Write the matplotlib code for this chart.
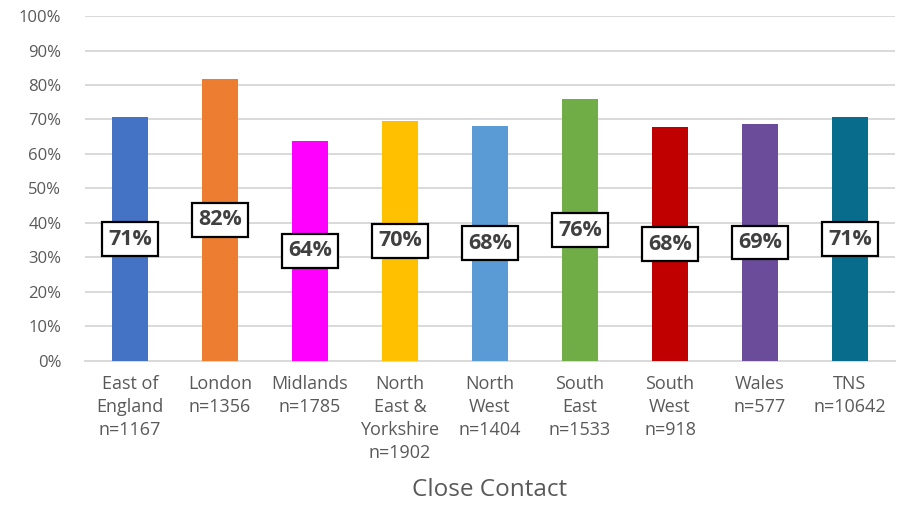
import matplotlib
matplotlib.use("Agg")
import matplotlib.pyplot as plt
import numpy as np

categories = ["East of\nEngland\nn=1167", "London\nn=1356", "Midlands\nn=1785",
              "North\nEast &\nYorkshire\nn=1902", "North\nWest\nn=1404",
              "South\nEast\nn=1533", "South\nWest\nn=918", "Wales\nn=577",
              "TNS\nn=10642"]
values = [70.6, 81.8, 63.8, 69.6, 68.2, 75.8, 67.8, 68.7, 70.7]
labels = ["71%", "82%", "64%", "70%", "68%", "76%", "68%", "69%", "71%"]
colors = ["#4472C4", "#ED7D31", "#FF00FF", "#FFC000", "#5B9BD5",
          "#70AD47", "#C00000", "#6B4C9A", "#086C8C"]
yticks = list(range(0, 101, 10))
title = "Close Contact"

plt.rcParams['font.family'] = ['Open Sans', 'DejaVu Sans']
fig = plt.figure(figsize=(9, 5.08), dpi=100)
ax = fig.add_axes([0.0944, 0.2894, 0.9, 0.6791])

x = np.arange(len(categories))
ax.bar(x, values, width=0.41, color=colors, zorder=3)
ax.set_xlim(-0.5, len(categories) - 0.5)
ax.set_ylim(0, 100)
ax.set_yticks(yticks)
ax.set_yticklabels([f"{t}%" for t in yticks], fontsize=12, color="#595959")
ax.yaxis.grid(True, color="#D9D9D9", linewidth=1.4, zorder=0)
ax.set_axisbelow(True)
ax.tick_params(axis='y', length=0, pad=17)
ax.tick_params(axis='x', length=0, pad=10)
ax.set_xticks(x)
ax.set_xticklabels(categories, fontsize=13, color="#595959", linespacing=1.36, va='top')
for s in ["top", "right", "left"]:
    ax.spines[s].set_visible(False)
ax.spines["bottom"].set_color("#D9D9D9")
ax.spines["bottom"].set_linewidth(1.4)

for xi, v, lab in zip(x, values, labels):
    ax.text(xi, v / 2, lab, ha='center', va='center', fontsize=15.5, fontweight='bold',
            color="#404040", zorder=5,
            bbox=dict(boxstyle="square,pad=0.3", facecolor="white",
                      edgecolor="black", linewidth=1.6))

fig.text(0.5444, 0.035, title, ha='center', va='center', fontsize=17.5, color="#595959")

fig.savefig("out.png", dpi=100)
